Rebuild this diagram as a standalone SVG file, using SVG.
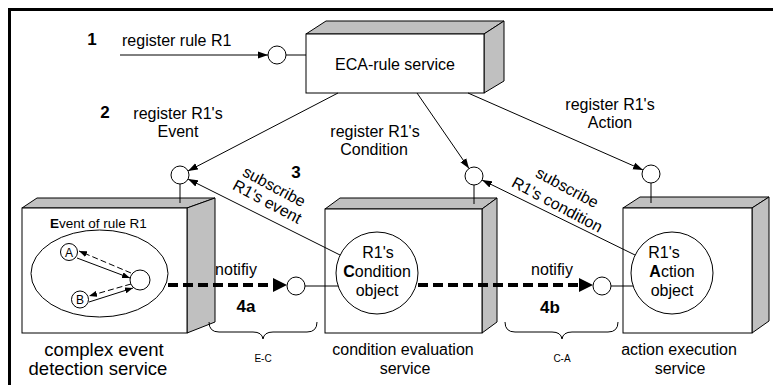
<svg xmlns="http://www.w3.org/2000/svg" width="773" height="385" viewBox="0 0 773 385">
<defs>
<style>
text{font-family:"Liberation Sans",Arial,sans-serif;fill:#000}
.t{font-size:16px}
.b{font-size:17px;font-weight:bold}
.m{text-anchor:middle}
.face{fill:#fff;stroke:#000;stroke-width:1}
.side{fill:#c0c0c0;stroke:#000;stroke-width:1}
.lol{fill:#fff;stroke:#000;stroke-width:1}
.ln{fill:none;stroke:#000;stroke-width:1}
.dsh{fill:none;stroke:#000;stroke-width:1;stroke-dasharray:6 3}
.thick{fill:none;stroke:#000;stroke-width:4;stroke-dasharray:10 5}
</style>
<marker id="arr" markerUnits="userSpaceOnUse" markerWidth="10" markerHeight="8" refX="10" refY="4" orient="auto"><path d="M0,0.5 L10,4 L0,7.5 z" fill="#000"/></marker>
<marker id="sarr" markerUnits="userSpaceOnUse" markerWidth="8" markerHeight="6" refX="8" refY="3" orient="auto"><path d="M0,0 L8,3 L0,6 z" fill="#000"/></marker>
<marker id="tarr" markerUnits="userSpaceOnUse" markerWidth="14" markerHeight="14" refX="0" refY="7" orient="auto"><path d="M0,0 L14,7 L0,14 z" fill="#000"/></marker>
</defs>
<rect width="773" height="385" fill="#fff"/>
<path d="M8,9.5 H773 M9.5,8 V385" stroke="#000" stroke-width="3" fill="none"/>

<g id="eca-service">
<polygon class="side" points="306,34 326,21 504,21 484,34"/>
<polygon class="side" points="484,34 504,21 504,81 484,93"/>
<rect class="face" x="306" y="34" width="178" height="59"/>
<text class="t m" x="395" y="70">ECA-rule service</text>
<line class="ln" x1="286" y1="55" x2="306" y2="55"/>
<circle class="lol" cx="277" cy="55" r="9"/>
</g>

<g id="event-service">
<polygon class="side" points="22,208 37,198 215,198 187,208"/>
<polygon class="side" points="187,208 215,198 215,322 187,333"/>
<rect class="face" x="22" y="208" width="165" height="125"/>
<line class="ln" x1="180" y1="184" x2="180" y2="203"/>
<circle class="lol" cx="180" cy="175" r="9"/>
<text x="50" y="228" style="font-size:13.5px"><tspan font-weight="bold">E</tspan>vent of rule R1</text>
<ellipse class="ln" cx="99.5" cy="273.5" rx="68.5" ry="43.5"/>
<circle class="lol" cx="69" cy="252" r="8.5"/>
<text class="m" x="69" y="256.5" style="font-size:12px">A</text>
<circle class="lol" cx="80" cy="299.5" r="8.5"/>
<text class="m" x="80" y="304" style="font-size:12px">B</text>
<circle class="lol" cx="140" cy="280" r="10"/>
<line class="dsh" x1="131" y1="273" x2="79" y2="251" marker-end="url(#sarr)"/>
<line class="ln" x1="77" y1="258" x2="130" y2="278" marker-end="url(#sarr)"/>
<line class="dsh" x1="131" y1="284" x2="89" y2="296" marker-end="url(#sarr)"/>
<line class="ln" x1="89" y1="302" x2="133" y2="288" marker-end="url(#sarr)"/>
<text class="m" x="104" y="356" style="font-size:18.5px">complex event</text>
<text class="m" x="98" y="375" style="font-size:18.5px">detection service</text>
</g>

<g id="condition-service">
<polygon class="side" points="325,209 340,198 497,198 482,209"/>
<polygon class="side" points="482,209 497,198 497,322 482,333"/>
<rect class="face" x="325" y="209" width="157" height="124"/>
<line class="ln" x1="474" y1="185" x2="474" y2="204"/>
<circle class="lol" cx="474" cy="176" r="9"/>
<circle class="lol" cx="377" cy="273" r="41"/>
<text class="t m" x="378" y="258">R1's</text>
<text class="t m" x="377" y="277"><tspan font-weight="bold">C</tspan>ondition</text>
<text class="t m" x="377" y="296">object</text>
<line class="ln" x1="305" y1="286" x2="338" y2="286"/>
<circle class="lol" cx="296" cy="286" r="9"/>
<text class="t m" x="403" y="355">condition evaluation</text>
<text class="t m" x="405" y="374">service</text>
</g>

<g id="action-service">
<polygon class="side" points="623,208 640,197 769,197 752,208"/>
<polygon class="side" points="752,208 769,197 769,321 752,333"/>
<rect class="face" x="623" y="208" width="129" height="125"/>
<line class="ln" x1="651" y1="183" x2="651" y2="203"/>
<circle class="lol" cx="651" cy="174" r="9"/>
<circle class="lol" cx="672" cy="273" r="41"/>
<text class="t m" x="664" y="258">R1's</text>
<text class="t m" x="672" y="277"><tspan font-weight="bold">A</tspan>ction</text>
<text class="t m" x="672" y="296">object</text>
<line class="ln" x1="611" y1="286" x2="633" y2="286"/>
<circle class="lol" cx="602" cy="286" r="9"/>
<text class="t m" x="679" y="355">action execution</text>
<text class="t m" x="680" y="374">service</text>
</g>

<g id="connectors">
<line class="ln" x1="120" y1="55" x2="268" y2="55" marker-end="url(#arr)"/>
<line class="ln" x1="338" y1="93" x2="188" y2="171" marker-end="url(#arr)"/>
<line class="ln" x1="417" y1="93" x2="469" y2="168.5" marker-end="url(#arr)"/>
<line class="ln" x1="468" y1="93" x2="643" y2="170" marker-end="url(#arr)"/>
<line class="ln" x1="340" y1="255" x2="188" y2="179" marker-end="url(#arr)"/>
<line class="ln" x1="635" y1="255" x2="482" y2="180" marker-end="url(#arr)"/>
<line class="thick" x1="168" y1="285" x2="273" y2="285" marker-end="url(#tarr)"/>
<line class="thick" x1="418" y1="285" x2="579" y2="285" marker-end="url(#tarr)"/>
<path class="ln" d="M209,322 Q209,332 219,332 L253,332 Q262,332 263,339 Q264,332 273,332 L307,332 Q317,332 317,322"/>
<path class="ln" d="M505,322 Q505,332 515,332 L552,332 Q561,332 562,339 Q563,332 572,332 L608,332 Q618,332 618,322"/>
</g>

<g id="labels">
<text class="b m" x="92" y="45">1</text>
<text class="t" x="122" y="46">register rule R1</text>
<text class="b m" x="105" y="118">2</text>
<text class="t m" x="178" y="119">register R1's</text>
<text class="t m" x="178" y="137">Event</text>
<text class="t m" x="375" y="137">register R1's</text>
<text class="t m" x="374" y="155">Condition</text>
<text class="t m" x="610" y="110">register R1's</text>
<text class="t m" x="610" y="128">Action</text>
<text class="b m" x="296" y="178">3</text>
<text class="t m" transform="translate(274,187) rotate(28)" y="5">subscribe</text>
<text class="t m" transform="translate(267,202) rotate(28)" y="5">R1's event</text>
<text class="t m" transform="translate(567,188) rotate(28)" y="5">subscribe</text>
<text class="t m" transform="translate(557,205) rotate(28)" y="5">R1's condition</text>
<text class="t m" x="236" y="275">notifiy</text>
<text class="t m" x="552" y="275">notifiy</text>
<text class="b m" x="246" y="312">4a</text>
<text class="b m" x="550" y="313">4b</text>
<text class="m" x="263" y="362" style="font-size:10px">E-C</text>
<text class="m" x="562" y="362" style="font-size:10px">C-A</text>
</g>
</svg>
